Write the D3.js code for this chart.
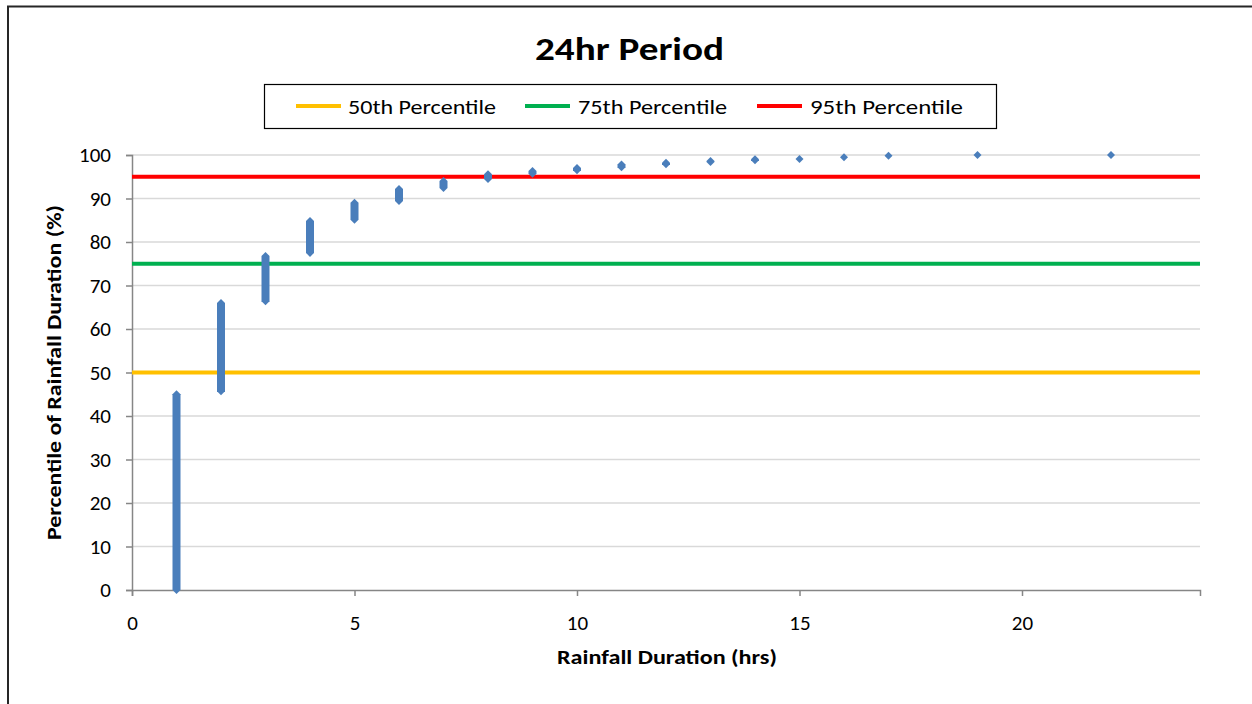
<!DOCTYPE html>
<html>
<head>
<meta charset="utf-8">
<script src="https://cdn.jsdelivr.net/npm/d3@7"></script>
<style>
  html, body { margin: 0; padding: 0; background: #fff; }
  svg { display: block; font-family: Carlito, Lato, "Open Sans", sans-serif; }
</style>
</head>
<body>
<svg id="chart" width="1252" height="704"></svg>
<script>
// Rainfall duration (hrs) and the percentile range each duration spans
const durations = [1, 2, 3, 4, 5, 6, 7, 8, 9, 10, 11, 12, 13, 14, 15, 16, 17, 19, 22];
const pctLow  = [0, 45.7, 66.4, 77.5, 85.1, 89.4, 92.4, 94.5, 95.7, 96.5, 97.2, 97.9, 98.4, 98.8, 99.1, 99.5, 99.8, 100, 100];
const pctHigh = [45.0, 66.0, 76.8, 84.8, 89.0, 92.2, 94.0, 95.6, 96.3, 97.0, 97.8, 98.2, 98.6, 99.0, 99.1, 99.5, 99.8, 100, 100];

// Reference percentile lines
const refNames  = ["50th Percentile", "75th Percentile", "95th Percentile"];
const refValues = [50, 75, 95];
const refColors = ["#ffc000", "#00b050", "#ff0000"];

const xTicks = [0, 5, 10, 15, 20];
const yTicks = [0, 10, 20, 30, 40, 50, 60, 70, 80, 90, 100];

const svg = d3.select("#chart");
const W = 1252, H = 704;
const plot = { left: 132, right: 1200, top: 155, bottom: 590 };
const FONT = "Carlito, Lato, sans-serif";

// Outer frame (top and left edges)
svg.append("path")
  .attr("d", `M8,${H} L8,6.5 L${W},6.5`)
  .attr("fill", "none").attr("stroke", "#262626").attr("stroke-width", 2);

const x = d3.scaleLinear().domain([0, 24]).range([plot.left, plot.right]);
const y = d3.scaleLinear().domain([0, 100]).range([plot.bottom, plot.top]);

// Horizontal gridlines
svg.append("g").selectAll("line").data(yTicks.filter(d => d > 0)).join("line")
  .attr("x1", plot.left).attr("x2", plot.right)
  .attr("y1", d => y(d)).attr("y2", d => y(d))
  .attr("stroke", "#d9d9d9").attr("stroke-width", 1.5);

// Y axis
const yAxis = svg.append("g").attr("transform", `translate(${plot.left},0)`)
  .call(d3.axisLeft(y).tickValues(yTicks).tickSize(6).tickPadding(15));
yAxis.attr("font-size", 21).attr("font-family", FONT);
yAxis.select(".domain").attr("stroke", "#868686").attr("stroke-width", 1.5);
yAxis.selectAll(".tick line").attr("stroke", "#868686").attr("stroke-width", 1.5);
yAxis.selectAll(".tick text").attr("fill", "#000");

// X axis
const xAxis = svg.append("g").attr("transform", `translate(0,${plot.bottom})`)
  .call(d3.axisBottom(x).tickValues(xTicks).tickSize(6).tickPadding(19));
xAxis.attr("font-size", 21).attr("font-family", FONT);
xAxis.select(".domain").attr("stroke", "#868686").attr("stroke-width", 1.5);
xAxis.selectAll(".tick line").attr("stroke", "#868686").attr("stroke-width", 1.5);
xAxis.selectAll(".tick text").attr("fill", "#000");

// Percentile reference lines
svg.append("g").selectAll("line").data(refValues).join("line")
  .attr("x1", x(0)).attr("x2", x(24))
  .attr("y1", d => y(d)).attr("y2", d => y(d))
  .attr("stroke", (d, i) => refColors[i]).attr("stroke-width", 4);

// Scatter markers: a diamond at each end of each duration's percentile run,
// joined into one elongated shape
const half = 4;
svg.append("g").selectAll("path").data(durations).join("path")
  .attr("d", (d, i) => {
    const cx = x(d), yt = y(pctHigh[i]), yb = y(pctLow[i]);
    return `M${cx},${yt - half} L${cx + half},${yt} L${cx + half},${yb} L${cx},${yb + half} L${cx - half},${yb} L${cx - half},${yt} Z`;
  })
  .attr("fill", "#4a7ebb");

// Title
svg.append("text").attr("x", 535).attr("y", 60)
  .attr("font-size", 32).attr("font-weight", "bold")
  .attr("textLength", 189).attr("lengthAdjust", "spacingAndGlyphs")
  .text("24hr Period");

// Legend
const legend = svg.append("g");
legend.append("rect").attr("x", 264.5).attr("y", 84.5).attr("width", 732).attr("height", 44)
  .attr("fill", "#fff").attr("stroke", "#000").attr("stroke-width", 1.2);
const legendLineX = [296, 525, 757];
const legendTextX = [348, 578, 810];
const legendTextW = [148, 149, 153];
refNames.forEach((name, i) => {
  legend.append("line").attr("x1", legendLineX[i]).attr("x2", legendLineX[i] + 45)
    .attr("y1", 106).attr("y2", 106)
    .attr("stroke", refColors[i]).attr("stroke-width", 4);
  legend.append("text").attr("x", legendTextX[i]).attr("y", 113.5).attr("font-size", 20)
    .attr("textLength", legendTextW[i]).attr("lengthAdjust", "spacingAndGlyphs")
    .text(name);
});

// Axis titles
svg.append("text").attr("x", 557).attr("y", 664)
  .attr("font-size", 20.5).attr("font-weight", "bold")
  .attr("textLength", 220).attr("lengthAdjust", "spacingAndGlyphs")
  .text("Rainfall Duration (hrs)");
svg.append("text").attr("transform", "translate(61,540) rotate(-90)")
  .attr("font-size", 20.5).attr("font-weight", "bold")
  .attr("textLength", 335).attr("lengthAdjust", "spacingAndGlyphs")
  .text("Percentile of Rainfall Duration (%)");
</script>
</body>
</html>
